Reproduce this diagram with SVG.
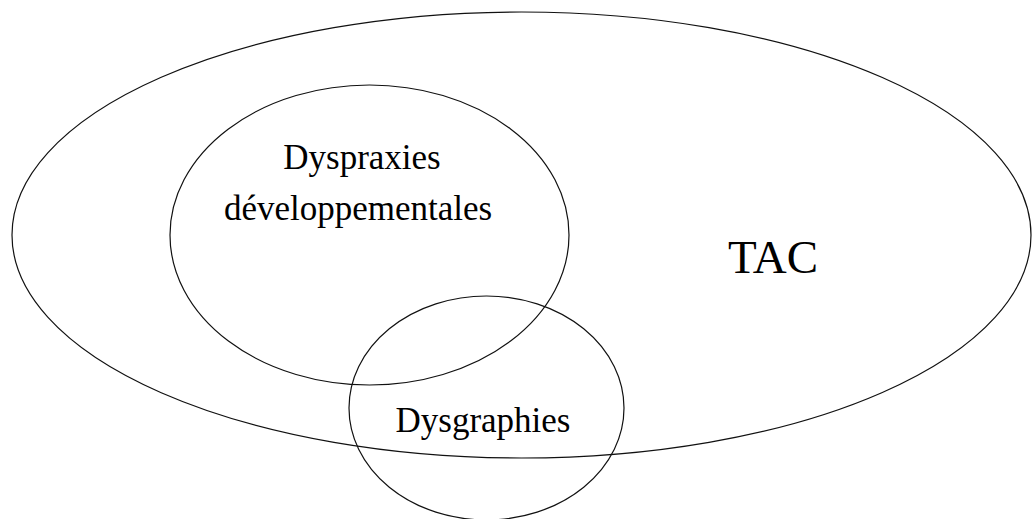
<svg xmlns="http://www.w3.org/2000/svg" width="1032" height="519" viewBox="0 0 1032 519">
<style>
.set{fill:none;stroke:#111;stroke-width:1.2}
.lbl{font-family:"Liberation Serif","Times New Roman",serif;fill:#000;text-anchor:middle}
</style>
<rect width="1032" height="519" fill="#fff"/>
<g id="tac">
<ellipse class="set" cx="521.5" cy="235" rx="509.5" ry="223"/>
<text class="lbl" x="773" y="273" font-size="47">TAC</text>
</g>
<g id="dyspraxies">
<ellipse class="set" cx="369.5" cy="235" rx="199.5" ry="150"/>
<text class="lbl" x="362" y="169" font-size="35">Dyspraxies</text>
<text class="lbl" x="358" y="220" font-size="35">développementales</text>
</g>
<g id="dysgraphies">
<ellipse class="set" cx="486.5" cy="408" rx="137.5" ry="112"/>
<text class="lbl" x="483" y="432" font-size="35">Dysgraphies</text>
</g>
<g id="connectors"></g>
</svg>
